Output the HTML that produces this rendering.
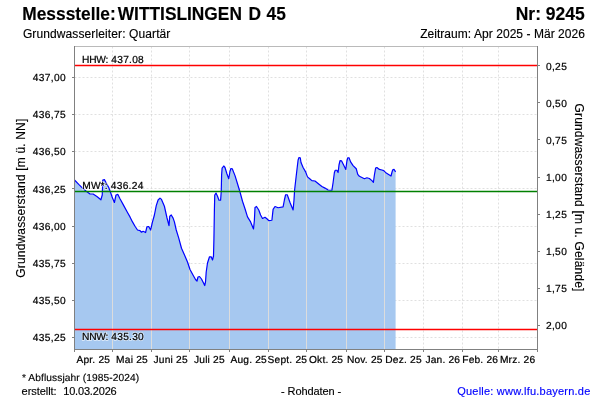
<!DOCTYPE html>
<html><head><meta charset="utf-8"><title>Messstelle WITTISLINGEN D 45</title>
<style>
html,body{margin:0;padding:0;background:#fff;}
body{width:600px;height:400px;overflow:hidden;font-family:"Liberation Sans",sans-serif;}
svg{display:block;will-change:transform;}
text{font-family:"Liberation Sans",sans-serif;fill:#000;white-space:pre;stroke:#000;stroke-width:0.15px;}
.t10 text{stroke-width:0.22px;}
.halo text{stroke:#fff;stroke-opacity:0.55;stroke-width:1.8px;fill:none;}
</style></head><body>
<svg width="600" height="400" viewBox="0 0 600 400">
<rect x="0" y="0" width="600" height="400" fill="#ffffff"/>
<text transform="translate(22.3,20) scale(0.947,1)" font-size="18.3" font-weight="bold">Messstelle:<tspan dx="-2.9"> WITTISLINGEN</tspan><tspan dx="1.85"> D</tspan><tspan dx="0.85"> 45</tspan></text>
<text transform="translate(584.8,20) scale(0.957,1)" font-size="18.3" font-weight="bold" text-anchor="end">Nr: 9245</text>
<text x="22.9" y="38" font-size="12" letter-spacing="0.11">Grundwasserleiter: Quartär</text>
<text x="585" y="38" font-size="12" letter-spacing="0.05" text-anchor="end">Zeitraum: Apr 2025 - Mär 2026</text>
<g stroke="#c0c0c0" stroke-width="0.5" stroke-dasharray="2,2" fill="none">
<line x1="74.5" y1="77.5" x2="537.5" y2="77.5"/>
<line x1="74.5" y1="114.5" x2="537.5" y2="114.5"/>
<line x1="74.5" y1="151.5" x2="537.5" y2="151.5"/>
<line x1="74.5" y1="188.5" x2="537.5" y2="188.5"/>
<line x1="74.5" y1="226.5" x2="537.5" y2="226.5"/>
<line x1="74.5" y1="263.5" x2="537.5" y2="263.5"/>
<line x1="74.5" y1="300.5" x2="537.5" y2="300.5"/>
<line x1="74.5" y1="337.5" x2="537.5" y2="337.5"/>
<line x1="112.5" y1="46.5" x2="112.5" y2="349.5"/>
<line x1="151.5" y1="46.5" x2="151.5" y2="349.5"/>
<line x1="189.5" y1="46.5" x2="189.5" y2="349.5"/>
<line x1="229.5" y1="46.5" x2="229.5" y2="349.5"/>
<line x1="268.5" y1="46.5" x2="268.5" y2="349.5"/>
<line x1="306.5" y1="46.5" x2="306.5" y2="349.5"/>
<line x1="346.5" y1="46.5" x2="346.5" y2="349.5"/>
<line x1="384.5" y1="46.5" x2="384.5" y2="349.5"/>
<line x1="423.5" y1="46.5" x2="423.5" y2="349.5"/>
<line x1="462.5" y1="46.5" x2="462.5" y2="349.5"/>
<line x1="498.5" y1="46.5" x2="498.5" y2="349.5"/>
</g>
<polygon points="74.50,180.00 78.75,184.40 82.50,188.10 86.25,191.25 90.00,194.00 93.10,194.00 96.90,196.50 100.90,199.75 102.25,195.00 102.75,180.00 104.40,179.60 106.25,183.10 108.75,187.50 110.60,192.50 112.50,198.10 114.40,202.50 116.00,195.00 117.90,194.40 120.00,198.75 123.75,205.60 127.50,212.50 130.00,216.90 132.50,221.90 135.00,226.25 137.50,230.00 140.00,230.60 141.50,232.25 143.10,231.25 145.60,232.50 146.90,226.90 148.75,226.50 150.60,230.00 152.50,221.90 154.40,215.00 156.25,205.60 158.10,200.00 160.00,198.10 161.50,199.40 164.40,206.25 166.90,217.50 169.00,225.60 169.75,216.25 171.25,215.00 173.10,218.10 174.40,221.90 176.25,230.00 178.75,238.10 181.50,248.25 184.50,255.00 187.50,262.00 190.00,269.50 193.00,275.00 195.50,279.50 197.00,281.00 198.00,277.00 199.50,276.50 201.50,279.00 203.50,283.00 204.70,285.50 205.50,282.00 206.20,272.00 207.50,263.00 209.50,256.80 211.20,256.80 212.50,260.00 213.50,256.00 213.90,240.00 214.40,210.00 214.75,195.00 216.00,193.10 217.50,196.25 219.00,200.25 220.60,200.25 221.25,191.25 221.60,175.00 222.10,168.10 223.75,166.00 225.00,167.50 226.90,173.75 228.75,178.75 230.00,171.25 230.90,168.50 232.25,168.75 235.00,175.60 237.50,183.75 240.00,192.00 242.50,201.25 245.00,208.75 247.50,216.90 250.60,221.90 253.50,229.00 254.40,220.00 255.00,207.50 256.50,206.50 258.75,210.00 260.60,215.00 262.50,218.50 265.00,217.25 266.90,218.75 268.75,220.60 271.90,220.25 273.10,209.40 275.00,206.50 278.10,207.75 283.10,206.90 284.40,200.00 285.60,194.75 287.25,194.75 290.00,202.50 293.10,210.00 294.00,200.00 294.60,190.00 295.60,181.25 296.90,170.00 298.10,160.00 299.00,157.50 300.25,157.75 301.00,162.50 303.10,167.50 305.60,171.90 307.50,176.90 310.00,179.00 311.90,180.60 315.00,181.00 318.10,183.50 321.90,186.50 325.00,188.10 328.10,190.00 331.90,190.25 333.10,182.50 334.40,172.50 335.25,170.25 336.90,170.25 338.10,172.50 339.00,165.00 340.00,160.60 341.50,160.80 343.75,165.30 345.80,169.40 346.90,161.00 347.80,157.75 349.05,157.75 350.60,161.90 353.10,165.60 356.25,168.75 357.75,174.40 359.40,176.25 361.90,177.50 364.40,178.75 366.90,177.75 369.40,178.50 371.90,180.60 373.40,182.25 374.40,175.00 375.60,168.10 376.90,167.50 379.40,169.40 381.90,170.00 383.75,170.60 386.25,173.10 389.40,175.00 391.00,176.00 391.90,172.50 392.75,169.75 394.00,169.40 395.60,171.90 395.60,349.5 74.5,349.5" fill="#a6c8f0"/>
<clipPath id="cf"><polygon points="74.50,180.00 78.75,184.40 82.50,188.10 86.25,191.25 90.00,194.00 93.10,194.00 96.90,196.50 100.90,199.75 102.25,195.00 102.75,180.00 104.40,179.60 106.25,183.10 108.75,187.50 110.60,192.50 112.50,198.10 114.40,202.50 116.00,195.00 117.90,194.40 120.00,198.75 123.75,205.60 127.50,212.50 130.00,216.90 132.50,221.90 135.00,226.25 137.50,230.00 140.00,230.60 141.50,232.25 143.10,231.25 145.60,232.50 146.90,226.90 148.75,226.50 150.60,230.00 152.50,221.90 154.40,215.00 156.25,205.60 158.10,200.00 160.00,198.10 161.50,199.40 164.40,206.25 166.90,217.50 169.00,225.60 169.75,216.25 171.25,215.00 173.10,218.10 174.40,221.90 176.25,230.00 178.75,238.10 181.50,248.25 184.50,255.00 187.50,262.00 190.00,269.50 193.00,275.00 195.50,279.50 197.00,281.00 198.00,277.00 199.50,276.50 201.50,279.00 203.50,283.00 204.70,285.50 205.50,282.00 206.20,272.00 207.50,263.00 209.50,256.80 211.20,256.80 212.50,260.00 213.50,256.00 213.90,240.00 214.40,210.00 214.75,195.00 216.00,193.10 217.50,196.25 219.00,200.25 220.60,200.25 221.25,191.25 221.60,175.00 222.10,168.10 223.75,166.00 225.00,167.50 226.90,173.75 228.75,178.75 230.00,171.25 230.90,168.50 232.25,168.75 235.00,175.60 237.50,183.75 240.00,192.00 242.50,201.25 245.00,208.75 247.50,216.90 250.60,221.90 253.50,229.00 254.40,220.00 255.00,207.50 256.50,206.50 258.75,210.00 260.60,215.00 262.50,218.50 265.00,217.25 266.90,218.75 268.75,220.60 271.90,220.25 273.10,209.40 275.00,206.50 278.10,207.75 283.10,206.90 284.40,200.00 285.60,194.75 287.25,194.75 290.00,202.50 293.10,210.00 294.00,200.00 294.60,190.00 295.60,181.25 296.90,170.00 298.10,160.00 299.00,157.50 300.25,157.75 301.00,162.50 303.10,167.50 305.60,171.90 307.50,176.90 310.00,179.00 311.90,180.60 315.00,181.00 318.10,183.50 321.90,186.50 325.00,188.10 328.10,190.00 331.90,190.25 333.10,182.50 334.40,172.50 335.25,170.25 336.90,170.25 338.10,172.50 339.00,165.00 340.00,160.60 341.50,160.80 343.75,165.30 345.80,169.40 346.90,161.00 347.80,157.75 349.05,157.75 350.60,161.90 353.10,165.60 356.25,168.75 357.75,174.40 359.40,176.25 361.90,177.50 364.40,178.75 366.90,177.75 369.40,178.50 371.90,180.60 373.40,182.25 374.40,175.00 375.60,168.10 376.90,167.50 379.40,169.40 381.90,170.00 383.75,170.60 386.25,173.10 389.40,175.00 391.00,176.00 391.90,172.50 392.75,169.75 394.00,169.40 395.60,171.90 395.60,349.5 74.5,349.5"/></clipPath>
<g stroke="#dcdcdc" stroke-width="1" clip-path="url(#cf)" shape-rendering="crispEdges">
<line x1="112.5" y1="46.5" x2="112.5" y2="349.5"/>
<line x1="151.5" y1="46.5" x2="151.5" y2="349.5"/>
<line x1="189.5" y1="46.5" x2="189.5" y2="349.5"/>
<line x1="229.5" y1="46.5" x2="229.5" y2="349.5"/>
<line x1="268.5" y1="46.5" x2="268.5" y2="349.5"/>
<line x1="306.5" y1="46.5" x2="306.5" y2="349.5"/>
<line x1="346.5" y1="46.5" x2="346.5" y2="349.5"/>
<line x1="384.5" y1="46.5" x2="384.5" y2="349.5"/>
<line x1="423.5" y1="46.5" x2="423.5" y2="349.5"/>
<line x1="462.5" y1="46.5" x2="462.5" y2="349.5"/>
<line x1="498.5" y1="46.5" x2="498.5" y2="349.5"/>
</g>
<polyline points="74.50,180.00 78.75,184.40 82.50,188.10 86.25,191.25 90.00,194.00 93.10,194.00 96.90,196.50 100.90,199.75 102.25,195.00 102.75,180.00 104.40,179.60 106.25,183.10 108.75,187.50 110.60,192.50 112.50,198.10 114.40,202.50 116.00,195.00 117.90,194.40 120.00,198.75 123.75,205.60 127.50,212.50 130.00,216.90 132.50,221.90 135.00,226.25 137.50,230.00 140.00,230.60 141.50,232.25 143.10,231.25 145.60,232.50 146.90,226.90 148.75,226.50 150.60,230.00 152.50,221.90 154.40,215.00 156.25,205.60 158.10,200.00 160.00,198.10 161.50,199.40 164.40,206.25 166.90,217.50 169.00,225.60 169.75,216.25 171.25,215.00 173.10,218.10 174.40,221.90 176.25,230.00 178.75,238.10 181.50,248.25 184.50,255.00 187.50,262.00 190.00,269.50 193.00,275.00 195.50,279.50 197.00,281.00 198.00,277.00 199.50,276.50 201.50,279.00 203.50,283.00 204.70,285.50 205.50,282.00 206.20,272.00 207.50,263.00 209.50,256.80 211.20,256.80 212.50,260.00 213.50,256.00 213.90,240.00 214.40,210.00 214.75,195.00 216.00,193.10 217.50,196.25 219.00,200.25 220.60,200.25 221.25,191.25 221.60,175.00 222.10,168.10 223.75,166.00 225.00,167.50 226.90,173.75 228.75,178.75 230.00,171.25 230.90,168.50 232.25,168.75 235.00,175.60 237.50,183.75 240.00,192.00 242.50,201.25 245.00,208.75 247.50,216.90 250.60,221.90 253.50,229.00 254.40,220.00 255.00,207.50 256.50,206.50 258.75,210.00 260.60,215.00 262.50,218.50 265.00,217.25 266.90,218.75 268.75,220.60 271.90,220.25 273.10,209.40 275.00,206.50 278.10,207.75 283.10,206.90 284.40,200.00 285.60,194.75 287.25,194.75 290.00,202.50 293.10,210.00 294.00,200.00 294.60,190.00 295.60,181.25 296.90,170.00 298.10,160.00 299.00,157.50 300.25,157.75 301.00,162.50 303.10,167.50 305.60,171.90 307.50,176.90 310.00,179.00 311.90,180.60 315.00,181.00 318.10,183.50 321.90,186.50 325.00,188.10 328.10,190.00 331.90,190.25 333.10,182.50 334.40,172.50 335.25,170.25 336.90,170.25 338.10,172.50 339.00,165.00 340.00,160.60 341.50,160.80 343.75,165.30 345.80,169.40 346.90,161.00 347.80,157.75 349.05,157.75 350.60,161.90 353.10,165.60 356.25,168.75 357.75,174.40 359.40,176.25 361.90,177.50 364.40,178.75 366.90,177.75 369.40,178.50 371.90,180.60 373.40,182.25 374.40,175.00 375.60,168.10 376.90,167.50 379.40,169.40 381.90,170.00 383.75,170.60 386.25,173.10 389.40,175.00 391.00,176.00 391.90,172.50 392.75,169.75 394.00,169.40 395.60,171.90" fill="none" stroke="#0000ff" stroke-width="1.2" stroke-linejoin="round"/>
<line x1="75.0" y1="65.5" x2="537.0" y2="65.5" stroke="#ff0000" stroke-width="1.5"/>
<line x1="75.0" y1="329.5" x2="537.0" y2="329.5" stroke="#ff0000" stroke-width="1.5"/>
<line x1="75.0" y1="191.4" x2="537.0" y2="191.4" stroke="#008000" stroke-width="1.5"/>
<g font-size="10.2" letter-spacing="0.06" text-rendering="geometricPrecision" class="halo">
<text x="82.3" y="188.5"><tspan letter-spacing="0.1">MW*:</tspan><tspan letter-spacing="0.3"> 436.24</tspan></text>
<text x="82" y="340"><tspan letter-spacing="-0.2">NNW:</tspan><tspan letter-spacing="0.26"> 435.30</tspan></text>
</g>
<g font-size="10.2" letter-spacing="0.06" text-rendering="geometricPrecision" class="t10">
<text x="82" y="63"><tspan letter-spacing="-0.2">HHW:</tspan><tspan letter-spacing="0.26"> 437.08</tspan></text>
<text x="82.3" y="188.5"><tspan letter-spacing="0.1">MW*:</tspan><tspan letter-spacing="0.3"> 436.24</tspan></text>
<text x="82" y="340"><tspan letter-spacing="-0.2">NNW:</tspan><tspan letter-spacing="0.26"> 435.30</tspan></text>
</g>
<g shape-rendering="crispEdges" fill="none">
<line x1="74" y1="46.5" x2="538" y2="46.5" stroke="#bababa"/>
<line x1="74.5" y1="46" x2="74.5" y2="350" stroke="#808080"/>
<line x1="537.5" y1="46" x2="537.5" y2="350" stroke="#808080"/>
<line x1="74" y1="349.5" x2="538" y2="349.5" stroke="#808080"/>
<line x1="72" y1="77.5" x2="74" y2="77.5" stroke="#808080"/>
<line x1="72" y1="114.5" x2="74" y2="114.5" stroke="#808080"/>
<line x1="72" y1="151.5" x2="74" y2="151.5" stroke="#808080"/>
<line x1="72" y1="188.5" x2="74" y2="188.5" stroke="#808080"/>
<line x1="72" y1="226.5" x2="74" y2="226.5" stroke="#808080"/>
<line x1="72" y1="263.5" x2="74" y2="263.5" stroke="#808080"/>
<line x1="72" y1="300.5" x2="74" y2="300.5" stroke="#808080"/>
<line x1="72" y1="337.5" x2="74" y2="337.5" stroke="#808080"/>
<line x1="538" y1="65.5" x2="540" y2="65.5" stroke="#808080"/>
<line x1="538" y1="102.5" x2="540" y2="102.5" stroke="#808080"/>
<line x1="538" y1="139.5" x2="540" y2="139.5" stroke="#808080"/>
<line x1="538" y1="177.5" x2="540" y2="177.5" stroke="#808080"/>
<line x1="538" y1="214.5" x2="540" y2="214.5" stroke="#808080"/>
<line x1="538" y1="251.5" x2="540" y2="251.5" stroke="#808080"/>
<line x1="538" y1="288.5" x2="540" y2="288.5" stroke="#808080"/>
<line x1="538" y1="325.5" x2="540" y2="325.5" stroke="#808080"/>
<line x1="74.5" y1="350" x2="74.5" y2="352" stroke="#808080"/>
<line x1="112.5" y1="350" x2="112.5" y2="352" stroke="#808080"/>
<line x1="151.5" y1="350" x2="151.5" y2="352" stroke="#808080"/>
<line x1="189.5" y1="350" x2="189.5" y2="352" stroke="#808080"/>
<line x1="229.5" y1="350" x2="229.5" y2="352" stroke="#808080"/>
<line x1="268.5" y1="350" x2="268.5" y2="352" stroke="#808080"/>
<line x1="306.5" y1="350" x2="306.5" y2="352" stroke="#808080"/>
<line x1="346.5" y1="350" x2="346.5" y2="352" stroke="#808080"/>
<line x1="384.5" y1="350" x2="384.5" y2="352" stroke="#808080"/>
<line x1="423.5" y1="350" x2="423.5" y2="352" stroke="#808080"/>
<line x1="462.5" y1="350" x2="462.5" y2="352" stroke="#808080"/>
<line x1="498.5" y1="350" x2="498.5" y2="352" stroke="#808080"/>
<line x1="537.5" y1="350" x2="537.5" y2="352" stroke="#808080"/>
</g>
<g font-size="10.2" letter-spacing="0.36" text-rendering="geometricPrecision" class="t10">
<text x="66.1" y="81" text-anchor="end">437,00</text>
<text x="66.1" y="118" text-anchor="end">436,75</text>
<text x="66.1" y="155" text-anchor="end">436,50</text>
<text x="66.1" y="193" text-anchor="end">436,25</text>
<text x="66.1" y="230" text-anchor="end">436,00</text>
<text x="66.1" y="267" text-anchor="end">435,75</text>
<text x="66.1" y="304" text-anchor="end">435,50</text>
<text x="66.1" y="341" text-anchor="end">435,25</text>
<text x="545.9" y="70">0,25</text>
<text x="545.9" y="107">0,50</text>
<text x="545.9" y="144">0,75</text>
<text x="545.9" y="181">1,00</text>
<text x="545.9" y="218">1,25</text>
<text x="545.9" y="255">1,50</text>
<text x="545.9" y="292">1,75</text>
<text x="545.9" y="329">2,00</text>
</g>
<g font-size="10.2" letter-spacing="0.2" text-anchor="middle" text-rendering="geometricPrecision" class="t10">
<text x="93.3" y="363">Apr. 25</text>
<text x="132.0" y="363">Mai 25</text>
<text x="170.7" y="363">Juni 25</text>
<text x="209.4" y="363">Juli 25</text>
<text x="248.7" y="363">Aug. 25</text>
<text x="287.4" y="363">Sept. 25</text>
<text x="326.1" y="363">Okt. 25</text>
<text x="364.8" y="363">Nov. 25</text>
<text x="403.5" y="363">Dez. 25</text>
<text x="442.8" y="363">Jan. 26</text>
<text x="480.2" y="363">Feb. 26</text>
<text x="517.6" y="363">Mrz. 26</text>
</g>
<text transform="translate(25,198.1) rotate(-90)" font-size="12" letter-spacing="0.17" text-anchor="middle">Grundwasserstand [m ü. NN]</text>
<text transform="translate(575,197.5) rotate(90)" font-size="12" letter-spacing="0.17" text-anchor="middle">Grundwasserstand [m u. Gelände]</text>
<text x="21.9" y="380.5" font-size="10.2" letter-spacing="0.1" text-rendering="geometricPrecision">* Abflussjahr (1985-2024)</text>
<text x="21.6" y="394.5" font-size="11" letter-spacing="-0.05">erstellt:</text>
<text x="63.2" y="394.5" font-size="11" letter-spacing="-0.17">10.03.2026</text>
<text x="311" y="394.5" font-size="11" letter-spacing="-0.1" text-anchor="middle">- Rohdaten -</text>
<text x="457.2" y="394.5" font-size="11" letter-spacing="0.22" style="fill:#0000ff;stroke:#0000ff">Quelle: www.lfu.bayern.de</text>
</svg>
</body></html>
